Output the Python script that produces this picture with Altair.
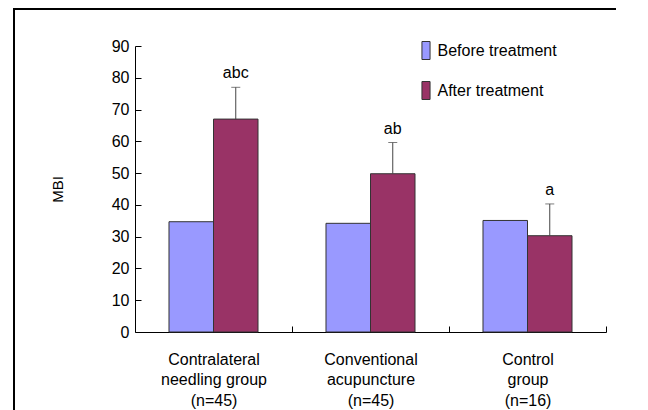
import altair as alt
import pandas as pd

groups = ["Contralateral|needling group|(n=45)",
          "Conventional|acupuncture|(n=45)",
          "Control|group|(n=16)"]
phases = ["Before treatment", "After treatment"]
before = [34.7, 34.2, 35.1]
after = [67.0, 49.8, 30.3]
after_err = [10.0, 9.8, 10.0]
letters = ["abc", "ab", "a"]
colors = ["#9999FF", "#993366"]

FONT = "Liberation Sans"

rows = []
for g, b, a in zip(groups, before, after):
    rows.append({"group": g, "phase": phases[0], "value": b})
    rows.append({"group": g, "phase": phases[1], "value": a})
bars_df = pd.DataFrame(rows)

err_df = pd.DataFrame({"group": groups, "phase": [phases[1]] * 3,
                       "value": after, "err": after_err, "letter": letters})
err_df["top"] = err_df["value"] + err_df["err"]

x_scale = alt.Scale(paddingInner=0.433, paddingOuter=0.2165)
x_axis = alt.Axis(labelExpr="split(datum.label, '|')", labelFontSize=16,
                  labelLineHeight=20.5, labelPadding=25, labelAngle=0,
                  tickOffset=78.5, labelOffset=-78.5, tickSize=alt.ExprRef("-6"),
                  domainColor="black", tickColor="black", labelColor="black",
                  labelFont=FONT, labelBaseline="top")
xo_enc = alt.XOffset("phase:N", sort=phases,
                     scale=alt.Scale(domain=phases, paddingInner=0, paddingOuter=0))
y_scale = alt.Scale(domain=[0, 90], nice=False)
y_axis = alt.Axis(values=list(range(0, 91, 10)), title="MBI",
                  titleFont=FONT, titleFontSize=15, titleFontWeight="normal",
                  titleColor="black", titleX=-78, titleY=143, titleAngle=-90,
                  titleAlign="center", titleBaseline="middle",
                  labelFont=FONT, labelFontSize=16, labelColor="black",
                  labelPadding=12, tickSize=alt.ExprRef("-6"), labelOverlap=False,
                  domainColor="black", tickColor="black", grid=False)

x_enc = alt.X("group:N", sort=groups, title=None, scale=x_scale, axis=x_axis)

def y_enc(field):
    return alt.Y(field, scale=y_scale, axis=y_axis, title="MBI")

frame_df = pd.DataFrame({"f": [0]})
frame_top = alt.Chart(frame_df).mark_rule(color="black", strokeWidth=2, clip=False).encode(
    x=alt.value(-122), x2=alt.value(481), y=alt.value(-37))
frame_left = alt.Chart(frame_df).mark_rule(color="black", strokeWidth=2, clip=False).encode(
    x=alt.value(-121), y=alt.value(-38), y2=alt.value(364))

bars = alt.Chart(bars_df).mark_bar(stroke="#333333", strokeWidth=1).encode(
    x=x_enc,
    xOffset=xo_enc,
    y=y_enc("value:Q"),
    color=alt.Color("phase:N", scale=alt.Scale(domain=phases, range=colors),
                    legend=alt.Legend(title=None, orient="none", legendX=281.5, legendY=-5,
                                      symbolType="M-0.45,-1L0.45,-1L0.45,1L-0.45,1Z",
                                      symbolSize=324, symbolStrokeColor="#333333",
                                      symbolStrokeWidth=1, symbolOpacity=1,
                                      labelFont=FONT, labelFontSize=16, labelColor="black",
                                      labelOffset=2, rowPadding=17, padding=0))
)

rules = alt.Chart(err_df).mark_rule(color="#444444", strokeWidth=1).encode(
    x=x_enc, xOffset=xo_enc, y=y_enc("value:Q"), y2="top:Q")
caps = alt.Chart(err_df).mark_tick(color="#444444", thickness=1, size=9).encode(
    x=x_enc, xOffset=xo_enc, y=y_enc("top:Q"))
texts = alt.Chart(err_df).mark_text(font=FONT, fontSize=16, color="black",
                                    baseline="bottom", dy=-6).encode(
    x=x_enc, xOffset=xo_enc, y=y_enc("top:Q"), text="letter:N")

chart = alt.layer(bars, rules, caps, texts, frame_top, frame_left).properties(
    width=471, height=286,
    padding={"left": 127, "top": 38, "right": 10, "bottom": 78},
    autosize=alt.AutoSizeParams(type="none"),
    background="white",
).configure_view(strokeWidth=0)

chart.save("out.html", embed_options={"renderer": "svg", "actions": False})
